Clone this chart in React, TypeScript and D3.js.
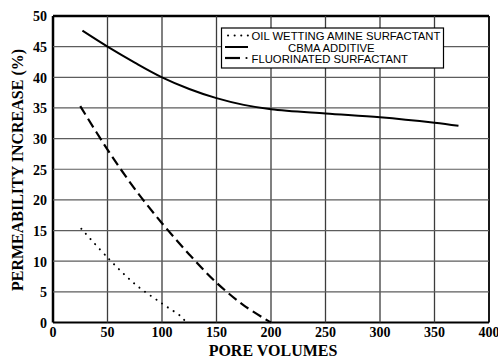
import React from "react";
import * as d3 from "d3";

const xTicks = [0, 50, 100, 150, 200, 250, 300, 350, 400];
const yTicks = [0, 5, 10, 15, 20, 25, 30, 35, 40, 45, 50];

const cbmaX = [27, 50, 75, 100, 125, 150, 175, 200, 250, 300, 350, 372];
const cbmaY = [47.6, 45, 42.4, 40, 38.1, 36.6, 35.5, 34.8, 34.1, 33.5, 32.6, 32.1];

const fluorX = [25, 50, 75, 100, 125, 150, 175, 200];
const fluorY = [35.3, 28.2, 21.8, 16.2, 11.1, 6.5, 2.8, 0];

const oilX = [26, 50, 75, 100, 118, 122];
const oilY = [15.3, 10.6, 6.3, 3.1, 0.9, 0];

const legendLabels = [
  "OIL WETTING AMINE SURFACTANT",
  "CBMA ADDITIVE",
  "FLUORINATED SURFACTANT",
];

const W = 498;
const H = 360;
const plotLeft = 53;
const plotRight = 489;
const plotTop = 16;
const plotBottom = 322.5;

export default function App() {
  const x = d3.scaleLinear().domain([0, 400]).range([plotLeft, plotRight]);
  const y = d3.scaleLinear().domain([0, 50]).range([plotBottom, plotTop]);

  const line = d3
    .line<[number, number]>()
    .x((d) => x(d[0]))
    .y((d) => y(d[1]))
    .curve(d3.curveCatmullRom.alpha(0.5));

  const zip = (a: number[], b: number[]) => a.map((v, i) => [v, b[i]] as [number, number]);

  const serif = "'Liberation Serif', 'DejaVu Serif', serif";
  const sans = "'Liberation Sans', Arial, sans-serif";

  const innerX = xTicks.filter((t) => t > 0 && t < 400);
  const innerY = yTicks.filter((t) => t > 0 && t < 50);

  return (
    <svg
      width={W}
      height={H}
      style={{ position: "absolute", left: 0, top: 0, background: "#fff" }}
    >
      {/* frame */}
      <line x1={plotLeft} x2={plotRight} y1={plotTop} y2={plotTop} stroke="#000" strokeWidth={2.5} />
      <line x1={plotLeft} x2={plotRight} y1={plotBottom} y2={plotBottom} stroke="#000" strokeWidth={2.2} />
      <line x1={plotLeft} x2={plotLeft} y1={plotTop} y2={plotBottom} stroke="#000" strokeWidth={2.5} />
      <line x1={plotRight} x2={plotRight} y1={plotTop} y2={plotBottom} stroke="#000" strokeWidth={1.8} />

      {/* grid, drawn over the frame interior */}
      {innerX.map((t) => (
        <line
          key={"gx" + t}
          x1={x(t)}
          x2={x(t)}
          y1={plotTop}
          y2={plotBottom}
          stroke="#3c3c3c"
          strokeWidth={1.3}
        />
      ))}
      {innerY.map((t) => (
        <line
          key={"gy" + t}
          x1={plotLeft}
          x2={plotRight}
          y1={y(t)}
          y2={y(t)}
          stroke="#5c5c5c"
          strokeWidth={1.2}
        />
      ))}

      {/* series */}
      <path d={line(zip(cbmaX, cbmaY)) || ""} fill="none" stroke="#000" strokeWidth={2} />
      <path
        d={line(zip(fluorX, fluorY)) || ""}
        fill="none"
        stroke="#000"
        strokeWidth={2.2}
        strokeDasharray="10 5"
      />
      <path
        d={line(zip(oilX, oilY)) || ""}
        fill="none"
        stroke="#000"
        strokeWidth={2}
        strokeDasharray="0.1 6.8"
        strokeLinecap="round"
      />

      {/* tick labels */}
      {yTicks.map((t) => (
        <text
          key={"ty" + t}
          x={47}
          y={y(t)}
          dy="0.38em"
          textAnchor="end"
          fontFamily={serif}
          fontWeight="bold"
          fontSize={14}
        >
          {t}
        </text>
      ))}
      {xTicks.map((t) => (
        <text
          key={"tx" + t}
          x={x(t)}
          y={337}
          textAnchor="middle"
          fontFamily={serif}
          fontWeight="bold"
          fontSize={14}
        >
          {t}
        </text>
      ))}

      {/* axis titles */}
      <text x={273} y={356} textAnchor="middle" fontFamily={serif} fontWeight="bold" fontSize={16}>
        PORE VOLUMES
      </text>
      <text
        transform="translate(23,170) rotate(-90)"
        textAnchor="middle"
        fontFamily={serif}
        fontWeight="bold"
        fontSize={16}
      >
        PERMEABILITY INCREASE (%)
      </text>

      {/* legend */}
      <rect x={221.5} y={28} width={222} height={40} fill="#fff" stroke="#000" strokeWidth={1.2} />
      <line
        x1={228}
        x2={248}
        y1={35.5}
        y2={35.5}
        stroke="#000"
        strokeWidth={2}
        strokeDasharray="0.1 6.5"
        strokeLinecap="round"
      />
      <line x1={225} x2={248} y1={47} y2={47} stroke="#000" strokeWidth={2} />
      <line x1={225} x2={240} y1={58} y2={58} stroke="#000" strokeWidth={2.2} />
      <circle cx={246.5} cy={58} r={1.1} fill="#000" />
      <text x={251.5} y={40} fontFamily={sans} fontSize={11.3}>
        {legendLabels[0]}
      </text>
      <text x={288} y={51.5} fontFamily={sans} fontSize={11.3}>
        {legendLabels[1]}
      </text>
      <text x={251.5} y={63} fontFamily={sans} fontSize={11.3}>
        {legendLabels[2]}
      </text>
    </svg>
  );
}
